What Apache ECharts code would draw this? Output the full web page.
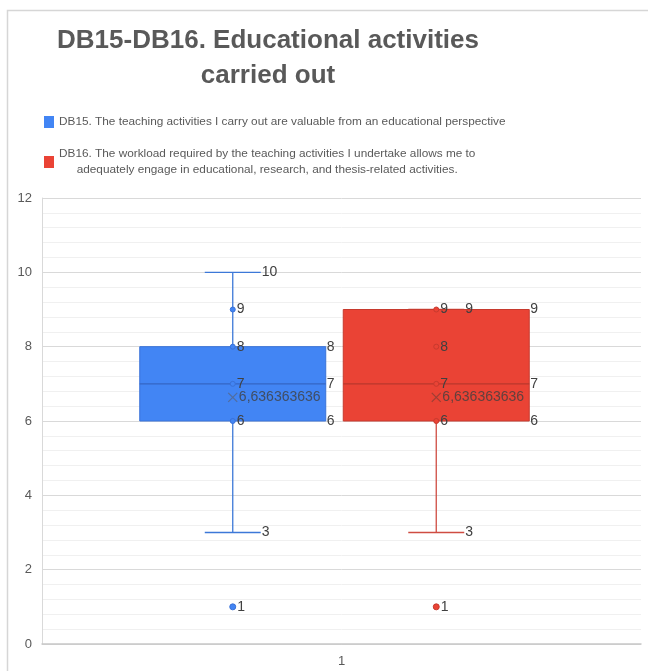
<!DOCTYPE html>
<html><head><meta charset="utf-8">
<script src="https://cdn.jsdelivr.net/npm/echarts@6/dist/echarts.min.js"></script>
<style>html,body{margin:0;padding:0;background:#fff}#c{width:648px;height:671px}</style>
</head><body><div id="c"></div>
<script>
// ---- data ----
const titleText = 'DB15-DB16. Educational activities\ncarried out';
const seriesNames = [
  'DB15. The teaching activities I carry out are valuable from an educational perspective',
  'DB16. The workload required by the teaching activities I undertake allows me to\nadequately engage in educational, research, and thesis-related activities.'
];
const xCategories = ['1'];
const boxCategories = ['DB15', 'DB16'];
const yMin = 0, yMax = 12, yStep = 2;
// [min, q1, median, q3, max]
const db15Box = [3, 6, 7, 8, 10];
const db16Box = [3, 6, 7, 9, 9];
const db15Inner = [9, 8, 7, 6];
const db16Inner = [9, 8, 7, 6];
const db15Outliers = [1];
const db16Outliers = [1];
const db15Mean = 6.636363636;
const db16Mean = 6.636363636;

// ---- styles ----
const fills = ['#4285F4', '#EA4335'];
const borders = ['#3a72d8', '#c73a2e'];
const whiskers = ['#3c78d8', '#cf4c42'];
const medians = ['#3566c4', '#b9372c'];
const meanCols = ['#566787', '#8a3d35'];
const labelCol = '#404040';
const FONT = "'Liberation Sans', Arial, sans-serif";

function boxSeries(idx, box) {
  return {
    type: 'custom', name: seriesNames[idx], xAxisIndex: 1, yAxisIndex: 1,
    itemStyle: { color: fills[idx] },
    encode: { x: 0, y: [1, 2, 3, 4, 5] },
    data: [[idx].concat(box)],
    z: 2,
    renderItem: function (params, api) {
      const cat = api.value(0);
      const mn = api.value(1), q1 = api.value(2), md = api.value(3), q3 = api.value(4), mx = api.value(5);
      const band = api.size([1, 0])[0];
      const boxW = band * 0.914, capW = band * 0.275;
      const cx = api.coord([cat, md])[0];
      const Y = v => api.coord([cat, v])[1];
      const ws = { stroke: whiskers[idx], lineWidth: 1.3 };
      const txt = (x, y, t) => ({ type: 'text', x: x, y: y, style: { text: String(t), fill: labelCol, font: '14px ' + FONT, verticalAlign: 'middle', align: 'left' } });
      return { type: 'group', children: [
        { type: 'line', shape: { x1: cx, y1: Y(q1), x2: cx, y2: Y(mn) }, style: ws },
        { type: 'line', shape: { x1: cx, y1: Y(q3), x2: cx, y2: Y(mx) }, style: ws },
        { type: 'line', shape: { x1: cx - capW / 2, y1: Y(mn), x2: cx + capW / 2, y2: Y(mn) }, style: ws },
        { type: 'line', shape: { x1: cx - capW / 2, y1: Y(mx), x2: cx + capW / 2, y2: Y(mx) }, style: ws },
        { type: 'rect', shape: { x: cx - boxW / 2, y: Y(q3), width: boxW, height: Y(q1) - Y(q3) }, style: { fill: fills[idx], stroke: borders[idx], lineWidth: 1 } },
        { type: 'line', shape: { x1: cx - boxW / 2, y1: Y(md), x2: cx + boxW / 2, y2: Y(md) }, style: { stroke: medians[idx], lineWidth: 1.2 } },
        txt(cx + capW / 2 + 1, Y(mx), mx),
        txt(cx + boxW / 2 + 1, Y(q3), q3),
        txt(cx + boxW / 2 + 1, Y(md), md),
        txt(cx + boxW / 2 + 1, Y(q1), q1),
        txt(cx + capW / 2 + 1, Y(mn), mn)
      ] };
    }
  };
}

function pointSeries(idx, vals, size, name) {
  return {
    type: 'scatter', name: name, xAxisIndex: 1, yAxisIndex: 1, z: 4,
    symbol: 'circle', symbolSize: size,
    itemStyle: { color: fills[idx], borderColor: borders[idx], borderWidth: 1, opacity: 1 },
    label: { show: true, position: 'right', distance: 1, color: labelCol, fontSize: 14, fontFamily: FONT, formatter: p => String(p.value[1]) },
    emphasis: { disabled: true },
    data: vals.map(v => [idx, v])
  };
}

function meanSeries(idx, m) {
  return {
    type: 'scatter', name: 'mean' + idx, xAxisIndex: 1, yAxisIndex: 1, z: 5,
    symbol: 'path://M0,0L10,10M10,0L0,10', symbolSize: 9,
    itemStyle: { color: 'rgba(0,0,0,0)', borderColor: meanCols[idx], borderWidth: 1.2 },
    label: { show: true, position: 'right', distance: 1, color: labelCol, fontSize: 14, fontFamily: FONT, formatter: p => String(p.value[1]).replace('.', ',') },
    emphasis: { disabled: true },
    data: [[idx, m]]
  };
}

const chart = echarts.init(document.getElementById('c'), null, { renderer: 'canvas' });
chart.setOption({
  animation: false,
  backgroundColor: '#ffffff',
  textStyle: { fontFamily: FONT },
  graphic: [{ type: 'rect', z: -10, shape: { x: 7.5, y: 10.5, width: 700, height: 700 }, style: { fill: 'none', stroke: '#d6d6d6', lineWidth: 1.5 } }],
  title: {
    text: titleText, left: 268, top: 23, padding: 0, textAlign: 'center',
    textStyle: { fontSize: 26, fontWeight: 'bold', color: '#595959', lineHeight: 35, fontFamily: FONT }
  },
  legend: {
    orient: 'vertical', left: 44, top: 116, padding: 0, itemGap: 20,
    itemWidth: 10, itemHeight: 12, icon: 'rect',
    selectedMode: false,
    data: [
      { name: seriesNames[0], itemStyle: { color: fills[0] } },
      { name: seriesNames[1], itemStyle: { color: fills[1] } }
    ],
    formatter: n => n.split('\n').map(l => '{a|' + l + '}').join('\n'),
    textStyle: { color: '#595959', fontFamily: FONT, fontSize: 12,
      rich: { a: { align: 'center', fontSize: 11.8, lineHeight: 16, color: '#595959', fontFamily: FONT } } }
  },
  grid: [
    { left: 42, right: 7, top: 198, bottom: 27, outerBoundsMode: 'none', containLabel: false },
    { left: 131, right: 110, top: 198, bottom: 27, outerBoundsMode: 'none', containLabel: false }
  ],
  xAxis: [
    { type: 'category', gridIndex: 0, data: xCategories,
      axisLine: { show: true, lineStyle: { color: '#c8c8c8', width: 1.5 } },
      axisTick: { show: false }, axisLabel: { color: '#595959', fontSize: 13, margin: 11, fontFamily: FONT },
      splitLine: { show: false } },
    { type: 'category', gridIndex: 1, data: boxCategories, show: false }
  ],
  yAxis: [
    { type: 'value', gridIndex: 0, min: yMin, max: yMax, interval: yStep,
      axisLine: { show: true, lineStyle: { color: '#d9d9d9' } },
      axisTick: { show: false },
      axisLabel: { color: '#595959', fontSize: 13, margin: 10, fontFamily: FONT },
      splitLine: { show: true, lineStyle: { color: '#d9d9d9', width: 1 } },
      minorTick: { show: false, splitNumber: 5 },
      minorSplitLine: { show: true, lineStyle: { color: '#f0f0f0', width: 1 } } },
    { type: 'value', gridIndex: 1, min: yMin, max: yMax, interval: yStep, show: false, splitLine: { show: false } }
  ],
  series: [
    boxSeries(0, db15Box),
    boxSeries(1, db16Box),
    pointSeries(0, db15Inner, 5, 'DB15 points'),
    pointSeries(1, db16Inner, 5, 'DB16 points'),
    pointSeries(0, db15Outliers, 6, 'DB15 outliers'),
    pointSeries(1, db16Outliers, 6, 'DB16 outliers'),
    meanSeries(0, db15Mean),
    meanSeries(1, db16Mean)
  ]
});
</script></body></html>
